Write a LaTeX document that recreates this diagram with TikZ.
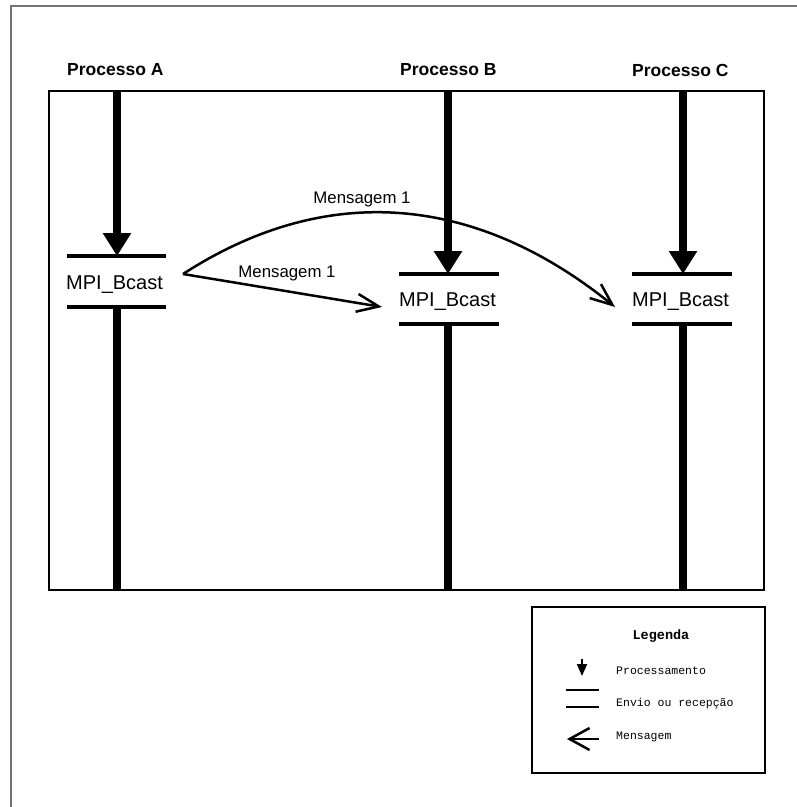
\documentclass[tikz,border=0pt]{standalone}
\usepackage{fontspec}
\setmainfont{Liberation Sans}
\newfontfamily\monof{Liberation Mono}
\usetikzlibrary{arrows.meta}
\begin{document}
\begin{tikzpicture}[x=1pt,y=-1pt,
  proc/.style={anchor=west,font=\bfseries\fontsize{17.5}{20}\selectfont,inner sep=0},
  life/.style={line width=7.5pt},
  proca/.style={line width=7.5pt,-{Triangle[length=23pt,width=27pt]}},
  bar/.style={line width=4.5pt},
  mpi/.style={anchor=west,font=\fontsize{20}{23}\selectfont,inner sep=0},
  msg/.style={line width=2.5pt,-{Straight Barb[length=22pt,width=18pt]}},
  msglabel/.style={font=\fontsize{16.8}{19}\selectfont,inner sep=0},
  leg/.style={anchor=west,font=\monof\fontsize{11.5}{13}\selectfont,inner sep=0}]
\useasboundingbox (0,0) rectangle (797,807);
% outer frame
\draw[line width=1.5pt,black!55] (11,807) -- (11,6) -- (797,6);
% main box
\draw[line width=1.5pt] (49,91) rectangle (764,590);
% process titles
\node[proc] (pA) at (67,70) {Processo A};
\node[proc] (pB) at (400,70) {Processo B};
\node[proc] (pC) at (632,70) {Processo C};
% lifeline coordinates
\coordinate (A0) at (117,91);  \coordinate (A1) at (117,256); \coordinate (A2) at (117,307); \coordinate (A3) at (117,590);
\coordinate (B0) at (448,91);  \coordinate (B1) at (448,274); \coordinate (B2) at (448,324); \coordinate (B3) at (448,590);
\coordinate (C0) at (683,91);  \coordinate (C1) at (683,274); \coordinate (C2) at (683,324); \coordinate (C3) at (683,590);
\draw[proca] (A0) -- (A1);
\draw[life] (A2) -- (A3);
\draw[proca] (B0) -- (B1);
\draw[life] (B2) -- (B3);
\draw[proca] (C0) -- (C1);
\draw[life] (C2) -- (C3);
% bars
\draw[bar] (67,256) -- (166,256);
\draw[bar] (67,307) -- (166,307);
\draw[bar] (399,274) -- (499,274);
\draw[bar] (399,324) -- (499,324);
\draw[bar] (632,274) -- (732,274);
\draw[bar] (632,324) -- (732,324);
% MPI_Bcast labels
\node[mpi] (mA) at (66,285) {MPI\_Bcast};
\node[mpi] (mB) at (399,302) {MPI\_Bcast};
\node[mpi] (mC) at (632,302) {MPI\_Bcast};
% messages
\coordinate (sA) at (183,274);
\coordinate (tB) at (382,307);
\coordinate (tC) at (615,307);
\draw[msg] (sA) -- (tB);
\draw[msg] (sA) .. controls (330,179) and (479,197) .. (tC);
\node[msglabel] (l1) at (287,273) {Mensagem 1};
\node[msglabel] (l2) at (362,199) {Mensagem 1};
% legend
\draw[line width=1.5pt] (532,607) rectangle (765,773);
\node[font=\monof\bfseries\fontsize{13.5}{15}\selectfont,inner sep=0] (lg) at (661,636) {Legenda};
\coordinate (la0) at (582,659); \coordinate (la1) at (582,676);
\draw[line width=2pt,-{Triangle[length=12pt,width=10pt]}] (la0) -- (la1);
\node[leg] (lp) at (616,671) {Processamento};
\coordinate (lb0) at (566,690); \coordinate (lb1) at (599,690);
\coordinate (lc0) at (566,707); \coordinate (lc1) at (599,707);
\draw[line width=1.5pt] (lb0) -- (lb1);
\draw[line width=1.5pt] (lc0) -- (lc1);
\node[leg] (le) at (616,704) {Envio ou recepção};
\coordinate (ld0) at (599,739); \coordinate (ld1) at (567,739);
\draw[line width=2.5pt,-{Straight Barb[length=20pt,width=22pt]}] (ld0) -- (ld1);
\node[leg] (lm) at (616,737) {Mensagem};
\end{tikzpicture}
\end{document}
